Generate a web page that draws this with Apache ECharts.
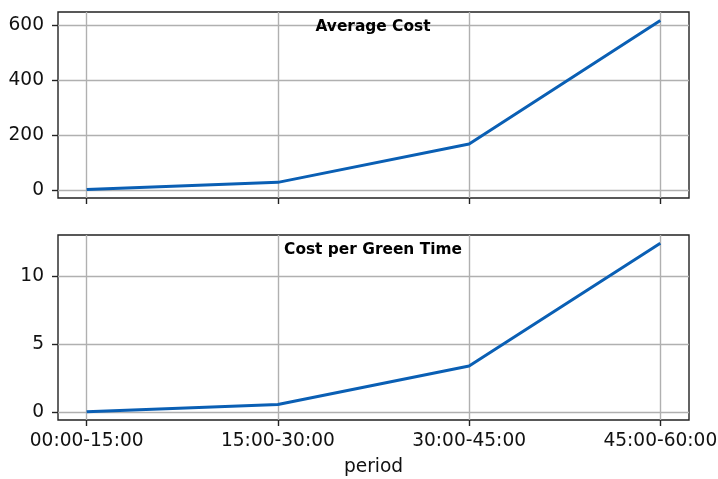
<!DOCTYPE html>
<html>
<head>
<meta charset="utf-8">
<script src="https://cdn.jsdelivr.net/npm/echarts@6/dist/echarts.min.js"></script>
<style>
  html, body { margin: 0; padding: 0; background: #fff; }
  #chart { width: 718px; height: 479px; }
</style>
</head>
<body>
<div id="chart"></div>
<script>
// Time periods along the x axis
const periods = ['00:00-15:00', '15:00-30:00', '30:00-45:00', '45:00-60:00'];
// Average cost per period
const averageCost = [1, 27, 167, 617];
// Cost divided by green time per period
const costPerGreenTime = [0.02, 0.56, 3.39, 12.39];
// Tick values on the y axes
const costTicks = [0, 200, 400, 600];
const greenTicks = [0, 5, 10];
const periodTicks = [0, 1, 2, 3];

const FONT = '"DejaVu Sans", "Liberation Sans", sans-serif';
const TEXT = '#111';
const GRID_LINE = { show: true, lineStyle: { color: '#b0b0b0', width: 1.4 } };
const LINE_COLOR = '#0a5fb4';

function xAxisFor(gridIndex, showLabels) {
  return {
    type: 'value',
    gridIndex: gridIndex,
    min: -0.15,
    max: 3.15,
    axisLine: { show: false, onZero: false },
    axisTick: { show: true, inside: false, customValues: periodTicks, length: 6, lineStyle: { color: '#222', width: 1.4 } },
    axisLabel: {
      show: showLabels,
      customValues: periodTicks,
      margin: 12,
      color: TEXT,
      fontFamily: FONT,
      fontSize: 18.6,
      formatter: v => periods[Math.round(v)] || ''
    },
    splitLine: GRID_LINE,
    name: showLabels ? 'period' : '',
    nameLocation: 'middle',
    nameGap: 38,
    nameTextStyle: { color: TEXT, fontFamily: FONT, fontSize: 18.6 }
  };
}

function yAxisFor(gridIndex, lo, hi, ticks) {
  return {
    type: 'value',
    gridIndex: gridIndex,
    min: lo,
    max: hi,
    axisLine: { show: false, onZero: false },
    axisTick: { show: true, inside: false, customValues: ticks, length: 6, lineStyle: { color: '#222', width: 1.4 } },
    axisLabel: {
      customValues: ticks,
      margin: 14,
      color: TEXT,
      fontFamily: FONT,
      fontSize: 18.6
    },
    splitLine: GRID_LINE
  };
}

function pairs(values) {
  return values.map((v, i) => [i, v]);
}

const gridBase = {
  left: 58, right: 29, show: true, containLabel: false, outerBoundsMode: 'none',
  borderColor: '#222', borderWidth: 1.4, backgroundColor: 'transparent'
};

const chart = echarts.init(document.getElementById('chart'), null, { renderer: 'canvas' });
chart.setOption({
  animation: false,
  backgroundColor: '#fff',
  grid: [
    Object.assign({}, gridBase, { top: 12, height: 186 }),
    Object.assign({}, gridBase, { top: 235, height: 185 })
  ],
  xAxis: [xAxisFor(0, false), xAxisFor(1, true)],
  yAxis: [
    yAxisFor(0, -30, 648, costTicks),
    yAxisFor(1, -0.58, 13.0, greenTicks)
  ],
  graphic: [
    {
      type: 'text', x: 373, y: 26.5, z: 10,
      style: { text: 'Average Cost', align: 'center', verticalAlign: 'middle', textAlign: 'center', textVerticalAlign: 'middle',
               font: 'bold 15.4px "DejaVu Sans", sans-serif', fill: '#000' }
    },
    {
      type: 'text', x: 373, y: 249.5, z: 10,
      style: { text: 'Cost per Green Time', align: 'center', verticalAlign: 'middle', textAlign: 'center', textVerticalAlign: 'middle',
               font: 'bold 15.4px "DejaVu Sans", sans-serif', fill: '#000' }
    }
  ],
  series: [
    {
      type: 'line', xAxisIndex: 0, yAxisIndex: 0,
      data: pairs(averageCost),
      showSymbol: false, symbol: 'none',
      lineStyle: { color: LINE_COLOR, width: 3 },
      itemStyle: { color: LINE_COLOR }
    },
    {
      type: 'line', xAxisIndex: 1, yAxisIndex: 1,
      data: pairs(costPerGreenTime),
      showSymbol: false, symbol: 'none',
      lineStyle: { color: LINE_COLOR, width: 3 },
      itemStyle: { color: LINE_COLOR }
    }
  ]
});
</script>
</body>
</html>
